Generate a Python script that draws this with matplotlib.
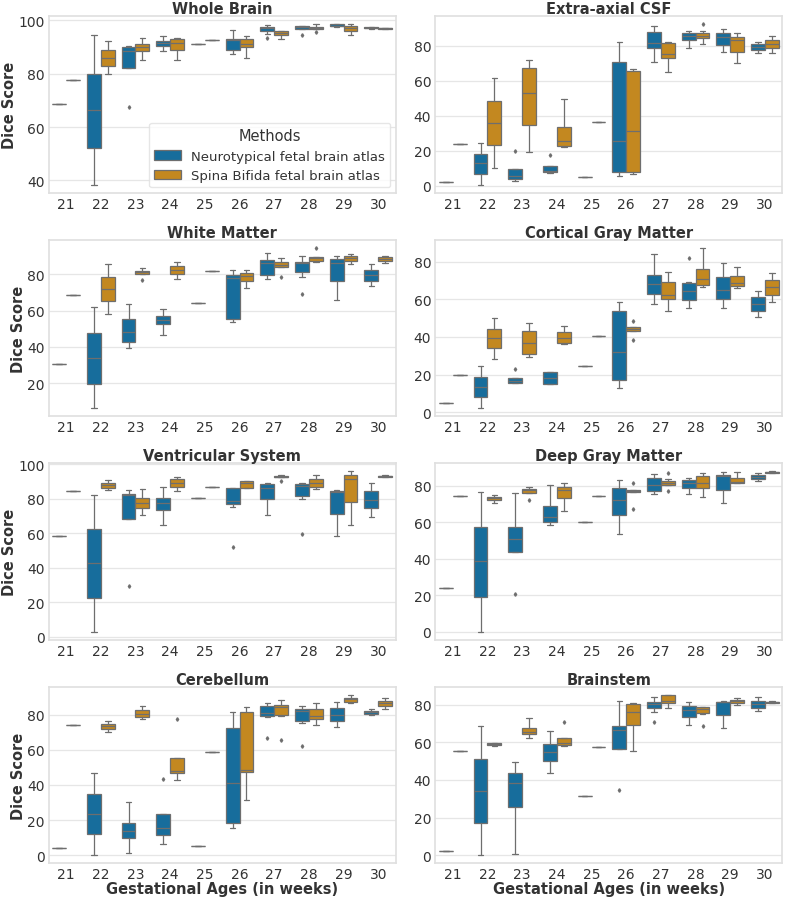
import matplotlib
matplotlib.use("Agg")
import matplotlib.pyplot as plt
from matplotlib.patches import Patch
import seaborn as sns

# ---------------- data ----------------
weeks = [21, 22, 23, 24, 25, 26, 27, 28, 29, 30]
methods = ["Neurotypical fetal brain atlas", "Spina Bifida fetal brain atlas"]
regions = ["Whole Brain", "Extra-axial CSF", "White Matter", "Cortical Gray Matter",
           "Ventricular System", "Deep Gray Matter", "Cerebellum", "Brainstem"]

# rows: (whisker low, q1, median, q3, whisker high) per week
wb_neuro = [(68.6,)*5, (38.4, 52.1, 66.4, 80.1, 94.4), (82.3, 82.3, 88.5, 89.9, 90.4),
            (88.6, 90.5, 91.7, 92.2, 94.1), (91.0,)*5, (87.4, 88.75, 92.6, 93.2, 96.25),
            (95.1, 96.1, 97.0, 97.6, 98.25), (96.9, 96.9, 97.5, 97.9, 98.1),
            (97.6, 97.75, 98.1, 98.5, 98.6), (96.9, 97.0, 97.2, 97.4, 97.5)]
wb_sb = [(77.75,)*5, (79.9, 82.9, 86.0, 89.0, 92.2), (85.1, 88.6, 89.9, 91.0, 93.6),
         (85.1, 88.9, 91.5, 93.2, 93.6), (92.5,)*5, (86.1, 89.9, 91.25, 93.0, 94.0),
         (93.0, 94.4, 95.25, 96.1, 96.1), (96.75, 96.75, 97.25, 97.6, 98.5),
         (94.4, 95.9, 97.0, 97.75, 98.5), (96.8, 96.9, 97.0, 97.1, 97.2)]
wb_neuro_out = [(23, 67.4), (27, 93.4), (28, 94.6)]
wb_sb_out = [(28, 95.5)]

csf_neuro = [(1.9,)*5, (0.6, 6.6, 12.9, 18.3, 24.4), (2.5, 4.0, 5.3, 9.5, 9.5),
             (7.0, 7.6, 8.7, 11.3, 11.3), (5.1,)*5, (5.3, 7.75, 25.7, 70.5, 82.2),
             (70.7, 78.8, 81.7, 87.5, 90.9), (78.8, 83.4, 85.6, 87.0, 88.5),
             (76.2, 80.3, 84.7, 87.0, 89.6), (75.8, 77.5, 79.0, 80.7, 82.2)]
csf_sb = [(23.6,)*5, (10.0, 23.1, 35.9, 48.6, 61.4), (19.5, 34.8, 52.7, 67.1, 71.6),
          (22.3, 22.7, 25.7, 33.8, 49.3), (36.1,)*5, (6.6, 8.1, 31.4, 65.4, 66.4),
          (65.2, 72.8, 75.0, 81.3, 82.2), (81.1, 84.1, 85.4, 87.0, 88.1),
          (70.1, 76.6, 83.0, 85.1, 87.0), (75.8, 78.4, 80.9, 83.0, 85.3)]
csf_neuro_out = [(23, 20.0), (24, 17.8)]
csf_sb_out = [(28, 92.2)]

wm_neuro = [(30.5,)*5, (6.2, 19.8, 33.8, 47.9, 61.8), (39.3, 42.8, 48.1, 55.2, 63.7),
            (46.8, 52.5, 55.0, 56.9, 60.7), (64.0,)*5, (53.6, 55.6, 78.0, 79.8, 82.4),
            (77.2, 79.8, 86.1, 87.9, 91.7), (78.7, 81.1, 86.1, 86.8, 90.3),
            (66.0, 76.1, 86.1, 88.3, 90.3), (73.4, 76.3, 79.4, 82.2, 85.7)]
wm_sb = [(68.4,)*5, (58.3, 65.1, 71.9, 78.7, 85.5), (80.4, 80.4, 81.3, 82.0, 83.3),
         (77.2, 80.0, 82.2, 84.4, 87.0), (81.7,)*5, (72.7, 76.5, 79.1, 80.6, 82.2),
         (84.0, 84.0, 85.0, 87.0, 88.8), (86.8, 87.2, 89.2, 89.7, 89.7),
         (85.5, 87.2, 88.8, 89.9, 91.4), (86.2, 87.2, 88.6, 89.4, 90.3)]
wm_neuro_out = [(28, 69.0)]
wm_sb_out = [(23, 77.1), (27, 78.3), (28, 94.7)]

cgm_neuro = [(5.0,)*5, (2.1, 7.8, 13.5, 18.8, 24.4), (15.4, 15.6, 16.8, 18.0, 18.0),
             (14.9, 15.0, 18.2, 21.1, 21.6), (24.4,)*5, (12.7, 17.0, 31.9, 53.5, 58.4),
             (57.5, 62.7, 68.1, 73.1, 83.9), (55.2, 59.6, 64.6, 68.5, 69.0),
             (55.6, 60.0, 64.8, 71.7, 79.1), (50.4, 54.0, 57.5, 61.1, 64.6)]
cgm_sb = [(19.8,)*5, (28.5, 34.0, 39.3, 44.4, 49.9), (29.2, 31.0, 36.8, 43.0, 47.4),
          (36.3, 36.6, 39.3, 42.5, 45.7), (40.4,)*5, (43.0, 43.0, 44.2, 45.0, 45.0),
          (53.8, 60.0, 62.1, 69.0, 74.7), (66.5, 67.8, 70.6, 75.9, 87.4),
          (65.8, 67.3, 68.7, 72.6, 77.3), (58.4, 62.5, 66.5, 70.1, 74.2)]
cgm_neuro_out = [(23, 22.7), (28, 82.1)]
cgm_sb_out = [(26, 48.5), (26, 38.4)]

vs_neuro = [(58.7,)*5, (2.9, 22.6, 42.7, 62.5, 82.4), (68.3, 68.3, 82.0, 83.0, 85.1),
            (65.1, 73.7, 77.8, 80.7, 87.1), (80.7,)*5, (75.5, 77.2, 79.0, 86.1, 86.3),
            (70.8, 80.1, 86.3, 88.4, 89.4), (79.9, 81.7, 87.5, 88.4, 89.0),
            (58.7, 71.2, 84.2, 84.6, 85.1), (69.7, 74.7, 79.5, 84.6, 89.4)]
vs_sb = [(84.4,)*5, (84.9, 86.5, 87.8, 89.4, 91.1), (70.7, 74.5, 77.4, 80.7, 85.9),
         (84.7, 86.7, 89.4, 91.5, 92.9), (87.1,)*5, (86.1, 86.1, 89.2, 90.3, 90.5),
         (92.7, 92.7, 93.0, 93.4, 93.8), (85.9, 86.9, 89.4, 91.5, 94.0),
         (64.7, 78.2, 91.7, 94.0, 96.1), (92.7, 92.9, 93.2, 93.6, 93.8)]
vs_neuro_out = [(23, 29.3), (26, 52.1), (28, 59.7)]
vs_sb_out = [(27, 90.3)]

dgm_neuro = [(24.0,)*5, (0.0, 19.1, 38.5, 57.5, 76.7), (43.5, 43.5, 51.1, 57.5, 75.8),
             (58.7, 60.0, 63.1, 69.1, 80.7), (60.0,)*5, (53.8, 63.8, 72.4, 78.7, 83.1),
             (75.3, 77.1, 80.5, 84.0, 86.5), (75.6, 78.7, 81.6, 83.3, 84.4),
             (70.7, 77.8, 85.1, 86.0, 87.5), (82.7, 83.8, 84.9, 85.8, 86.9)]
dgm_sb = [(74.4,)*5, (70.7, 72.0, 73.1, 74.0, 75.1), (76.2, 76.2, 77.5, 78.2, 79.3),
          (66.2, 73.3, 77.5, 79.6, 81.6), (74.4,)*5, (76.5, 76.5, 77.1, 77.5, 77.5),
          (80.7, 80.7, 81.8, 82.5, 83.5), (73.8, 78.9, 81.8, 85.6, 86.9),
          (81.8, 81.8, 82.2, 84.5, 87.3), (87.0, 87.1, 87.5, 87.8, 88.0)]
dgm_neuro_out = [(23, 20.5)]
dgm_sb_out = [(23, 72.2), (26, 81.6), (26, 67.3), (27, 87.1), (27, 77.1)]

cb_neuro = [(4.1,)*5, (0.0, 11.9, 23.7, 35.0, 46.9), (1.1, 10.0, 13.7, 18.1, 30.3),
            (6.2, 11.7, 15.4, 23.7, 23.7), (5.5,)*5, (15.3, 18.6, 41.2, 72.5, 81.4),
            (78.7, 79.1, 81.0, 84.6, 86.8), (75.0, 76.6, 82.3, 83.2, 84.6),
            (72.7, 76.6, 80.0, 83.6, 87.0), (79.8, 80.6, 81.5, 82.1, 83.0)]
cb_sb = [(74.0,)*5, (70.2, 71.8, 73.3, 74.6, 76.3), (77.6, 78.5, 80.2, 82.5, 84.6),
         (42.7, 46.7, 48.0, 55.4, 55.4), (58.8,)*5, (31.6, 47.5, 48.4, 81.7, 84.2),
         (79.1, 79.7, 84.2, 85.3, 88.3), (74.0, 77.4, 79.1, 83.2, 86.4),
         (86.4, 87.4, 88.7, 89.5, 91.3), (83.0, 84.7, 86.3, 87.9, 89.6)]
cb_neuro_out = [(24, 43.1), (27, 66.7), (28, 62.3)]
cb_sb_out = [(24, 77.4), (27, 65.3)]

bs_neuro = [(2.1,)*5, (0.0, 17.2, 34.3, 51.3, 68.5), (0.5, 25.7, 38.1, 43.6, 49.4),
            (43.8, 50.1, 54.7, 59.0, 66.1), (31.6,)*5, (56.6, 56.6, 66.4, 68.4, 82.1),
            (75.9, 78.0, 80.1, 81.4, 84.2), (68.9, 73.5, 77.0, 79.1, 81.5),
            (67.7, 74.3, 81.2, 81.5, 82.1), (76.3, 78.4, 80.1, 82.1, 84.2)]
bs_sb = [(55.2,)*5, (58.0, 58.3, 58.9, 59.4, 59.8), (62.2, 64.3, 65.6, 67.5, 72.6),
         (57.8, 58.5, 59.8, 62.2, 62.2), (57.5,)*5, (55.4, 69.2, 75.9, 80.5, 81.0),
         (78.0, 81.0, 82.1, 84.9, 85.2), (75.0, 75.7, 77.7, 78.7, 78.9),
         (79.8, 80.7, 81.7, 82.6, 83.3), (81.0, 81.0, 81.4, 81.5, 81.7)]
bs_neuro_out = [(26, 34.6), (27, 70.7)]
bs_sb_out = [(24, 70.7), (28, 68.4)]

panel_data = [
    (wb_neuro, wb_sb, wb_neuro_out, wb_sb_out),
    (csf_neuro, csf_sb, csf_neuro_out, csf_sb_out),
    (wm_neuro, wm_sb, wm_neuro_out, wm_sb_out),
    (cgm_neuro, cgm_sb, cgm_neuro_out, cgm_sb_out),
    (vs_neuro, vs_sb, vs_neuro_out, vs_sb_out),
    (dgm_neuro, dgm_sb, dgm_neuro_out, dgm_sb_out),
    (cb_neuro, cb_sb, cb_neuro_out, cb_sb_out),
    (bs_neuro, bs_sb, bs_neuro_out, bs_sb_out),
]

# ---------------- style ----------------
sns.set_theme(style="whitegrid")
plt.rcParams['font.family'] = ['DejaVu Sans']
text_col = "#333333"
line_col = "#6e6e6e"
base = sns.color_palette("colorblind")[:2]
colors = [sns.desaturate(c, 0.75) for c in base]

fig, axes = plt.subplots(4, 2, figsize=(7.87, 9.04), dpi=100)
fig.subplots_adjust(left=0.062, right=0.994, top=0.981, bottom=0.044,
                    wspace=0.115, hspace=0.266)

offsets = [-0.2, 0.2]
for k, ax in enumerate(axes.flat):
    neuro, sb, neuro_out, sb_out = panel_data[k]
    for m, (series, outl) in enumerate([(neuro, neuro_out), (sb, sb_out)]):
        stats = []
        for i, (lo, q1, med, q3, hi) in enumerate(series):
            fl = [v for (w, v) in outl if w == weeks[i]]
            stats.append(dict(whislo=lo, q1=q1, med=med, q3=q3, whishi=hi, fliers=fl))
        pos = [i + offsets[m] for i in range(len(weeks))]
        ax.bxp(stats, positions=pos, widths=0.4, capwidths=0.16, patch_artist=True,
               showfliers=True, manage_ticks=False,
               boxprops=dict(facecolor=colors[m], edgecolor=line_col, linewidth=0.9),
               medianprops=dict(color=line_col, linewidth=0.9),
               whiskerprops=dict(color=line_col, linewidth=0.9),
               capprops=dict(color=line_col, linewidth=0.9),
               flierprops=dict(marker='d', markersize=1.8, markerfacecolor=line_col,
                               markeredgecolor=line_col))
    ax.set_xlim(-0.5, len(weeks) - 0.5)
    ax.set_xticks(range(len(weeks)))
    ax.set_xticklabels([str(w) for w in weeks])
    ax.autoscale(axis='y')
    ax.margins(y=0.05)
    ax.grid(axis='x', visible=False)
    ax.grid(axis='y', color='#e6e6e6', linewidth=0.9)
    for s in ax.spines.values():
        s.set_color('#e0e0e0')
    ax.tick_params(axis='both', labelsize=10, colors=text_col, length=0, pad=3)
    ax.set_title(regions[k], fontsize=10.5, fontweight='bold', color=text_col, pad=2)
    if k % 2 == 0:
        ax.set_ylabel("Dice Score", fontsize=10.5, fontweight='bold', color=text_col,
                      labelpad=1)
    if k >= 6:
        ax.set_xlabel("Gestational Ages (in weeks)", fontsize=10.5, fontweight='bold',
                      color=text_col, labelpad=0)

handles = [Patch(facecolor=colors[i], edgecolor=line_col, linewidth=0.9, label=methods[i])
           for i in range(2)]
leg = axes[0, 0].legend(handles=handles, title="Methods", loc='lower right',
                        fontsize=9.5, title_fontsize=10.5, frameon=True,
                        borderaxespad=0.4)
leg.get_frame().set_edgecolor('#e0e0e0')
for t in leg.get_texts():
    t.set_color(text_col)
leg.get_title().set_color(text_col)

fig.savefig("out.png", dpi=100)
